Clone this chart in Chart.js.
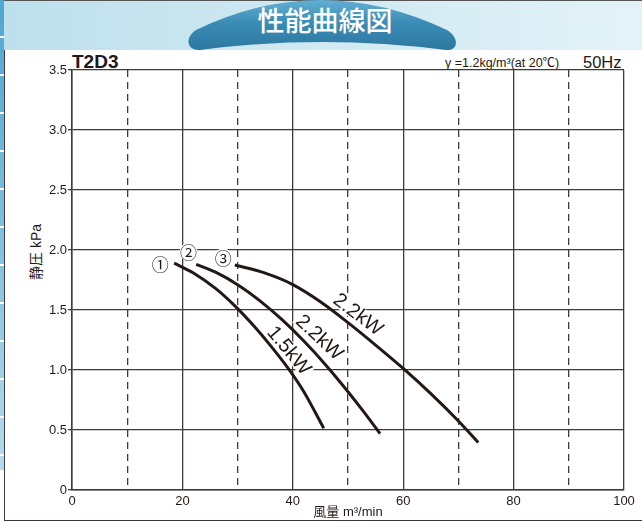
<!DOCTYPE html>
<html>
<head>
<meta charset="utf-8">
<script src="https://cdn.jsdelivr.net/npm/chart.js@4"></script>
<style>
    html, body { margin: 0; padding: 0; }
    body {
        width: 642px; height: 525px; position: relative; overflow: hidden;
        background: #fff; color: #231815;
        font-family: 'Liberation Sans', 'Noto Sans CJK JP', sans-serif;
    }
    #band {
        position: absolute; left: 0; top: 0; width: 642px; height: 50px;
        background: linear-gradient(to right, #bde0ec, #e3f2f8);
        border-top: 1px solid #555; box-sizing: border-box;
    }
    #strip {
        position: absolute; left: 0; top: 0; width: 4px; height: 470px;
        background: repeating-linear-gradient(to bottom, transparent 0 36px, #fff 36px 38px),
                    linear-gradient(to bottom, #4ea6d2, #b5dbee);
    }
    #panel {
        position: absolute; left: 4px; top: 50px; width: 638px; height: 471px;
        background: #fff; box-sizing: border-box;
        border-left: 1.5px solid #3e3a39; border-bottom: 1.5px solid #3e3a39;
    }
    #deco, #chart { position: absolute; left: 0; top: 0; }
</style>
</head>
<body>
<div id="band"></div>
<div id="strip"></div>
<div id="panel"></div>
<svg id="deco" width="642" height="525">
    <defs>
        <linearGradient id="badge" x1="0" y1="0" x2="0" y2="1">
            <stop offset="0" stop-color="#62afd2"/>
            <stop offset="0.45" stop-color="#3b8db6"/>
            <stop offset="1" stop-color="#2c77a0"/>
        </linearGradient>
    </defs>
    <path d="M 200,50 Q 322,34 446,50 C 458,51 460,38 447,30 Q 320,-30 196,30 C 184,38 187,51 200,50 Z" fill="url(#badge)"/>
    <text x="325" y="31" text-anchor="middle" fill="#fff" font-size="27" font-weight="500"
          font-family="'Noto Sans CJK JP', sans-serif">性能曲線図</text>
    <text x="72" y="68" font-size="19" font-weight="bold" fill="#231815"
          font-family="'Liberation Sans', sans-serif">T2D3</text>
    <text x="445" y="67" font-size="12.5" fill="#231815"
          font-family="'Liberation Sans', 'Noto Sans CJK JP', sans-serif">γ =1.2kg/m³(at 20℃)</text>
    <text x="583" y="68" font-size="16.5" fill="#231815"
          font-family="'Liberation Sans', sans-serif">50Hz</text>
    <text transform="translate(41,252) rotate(-90)" text-anchor="middle" font-size="14" fill="#231815"
          font-family="'Liberation Sans', 'Noto Sans CJK JP', sans-serif">静圧 kPa</text>
</svg>
<canvas id="chart" width="642" height="525"></canvas>
<script>
// air flow (m3/min) and static pressure (kPa)
const flow1 = [18.5, 22, 26, 29.6, 33, 36, 39.2, 42, 45.6];
const pres1 = [1.89, 1.809, 1.68, 1.53, 1.364, 1.201, 1.011, 0.819, 0.515];
const flow2 = [22.5, 26, 30, 34, 38, 42, 46, 50, 53, 55.8];
const pres2 = [1.88, 1.815, 1.711, 1.578, 1.421, 1.241, 1.04, 0.819, 0.643, 0.47];
const flow3 = [29.5, 35, 40, 45, 50, 55, 60, 65, 70, 73.6];
const pres3 = [1.875, 1.807, 1.712, 1.569, 1.395, 1.208, 1.013, 0.803, 0.575, 0.395];

const curveNames = ['1.5kW', '2.2kW', '2.2kW'];
const curveMarks = ['①', '②', '③'];

const xTickLabels = ['0', '', '20', '', '40', '', '60', '', '80', '', '100'];
const yTickLabels = ['0', '0.5', '1.0', '1.5', '2.0', '2.5', '3.0', '3.5'];

const INK = '#231815';
const GRID = '#3e3a39';

// where the text labels sit, in data units
const nameAt = [
    { x: 39.4, y: 1.165, rot: 50 },
    { x: 44.9, y: 1.275, rot: 43 },
    { x: 51.9, y: 1.465, rot: 37 }
];
const markAt = [
    { x: 16.0, y: 1.89 },
    { x: 21.1, y: 1.985 },
    { x: 27.4, y: 1.94 }
];

function series(xs, ys) {
    return {
        data: xs.map((x, i) => ({ x: x, y: ys[i] })),
        borderColor: INK,
        borderWidth: 3,
        pointRadius: 0,
        fill: false,
        cubicInterpolationMode: 'monotone'
    };
}

const curveText = {
    id: 'curveText',
    beforeDatasetsDraw(chart) {
        const { ctx, scales: { x, y } } = chart;
        ctx.save();
        ctx.textAlign = 'center';
        ctx.textBaseline = 'middle';

        ctx.font = "20px 'Liberation Sans', sans-serif";
        curveNames.forEach((name, i) => {
            const p = nameAt[i];
            const w = ctx.measureText(name).width;
            ctx.save();
            ctx.translate(x.getPixelForValue(p.x), y.getPixelForValue(p.y));
            ctx.rotate(p.rot * Math.PI / 180);
            ctx.fillStyle = '#fff';
            ctx.fillRect(-w / 2 - 2, -8, w + 4, 16);
            ctx.fillStyle = INK;
            ctx.fillText(name, 0, 1);
            ctx.restore();
        });

        ctx.font = "17px 'Noto Sans CJK JP', sans-serif";
        curveMarks.forEach((m, i) => {
            const px = x.getPixelForValue(markAt[i].x);
            const py = y.getPixelForValue(markAt[i].y);
            ctx.fillStyle = '#fff';
            ctx.beginPath();
            ctx.arc(px, py, 9, 0, Math.PI * 2);
            ctx.fill();
            ctx.fillStyle = INK;
            ctx.fillText(m, px, py + 1);
        });
        ctx.restore();
    }
};

new Chart(document.getElementById('chart'), {
    type: 'line',
    data: {
        datasets: [series(flow1, pres1), series(flow2, pres2), series(flow3, pres3)]
    },
    options: {
        responsive: false,
        animation: false,
        devicePixelRatio: 1,
        layout: { padding: { top: 70, right: 18, bottom: 0, left: 0 } },
        plugins: { legend: { display: false }, tooltip: { enabled: false } },
        scales: {
            x: {
                type: 'linear',
                min: 0,
                max: 100,
                ticks: {
                    stepSize: 10,
                    autoSkip: false,
                    maxRotation: 0,
                    padding: 4,
                    color: INK,
                    font: { family: "'Liberation Sans', sans-serif", size: 13 },
                    callback: (v, i) => xTickLabels[i]
                },
                grid: { color: GRID, lineWidth: 1.3, drawTicks: false },
                border: {
                    color: GRID,
                    width: 1.5,
                    dash: c => (c.tick && c.tick.value % 20 !== 0) ? [7, 5] : []
                },
                title: {
                    display: true,
                    text: '風量 m³/min',
                    color: INK,
                    font: { family: "'Liberation Sans', 'Noto Sans CJK JP', sans-serif", size: 13 },
                    padding: { top: 0, bottom: 5 }
                },
                afterFit: s => { s.height = 35; }
            },
            y: {
                min: 0,
                max: 3.5,
                ticks: {
                    stepSize: 0.5,
                    padding: 1,
                    color: INK,
                    font: { family: "'Liberation Sans', sans-serif", size: 13 },
                    callback: (v, i) => yTickLabels[i]
                },
                grid: { color: GRID, lineWidth: 1.3, tickLength: 4 },
                border: { color: GRID, width: 1.5 },
                afterFit: s => { s.width = 72; }
            }
        }
    },
    plugins: [curveText]
});
</script>
</body>
</html>
